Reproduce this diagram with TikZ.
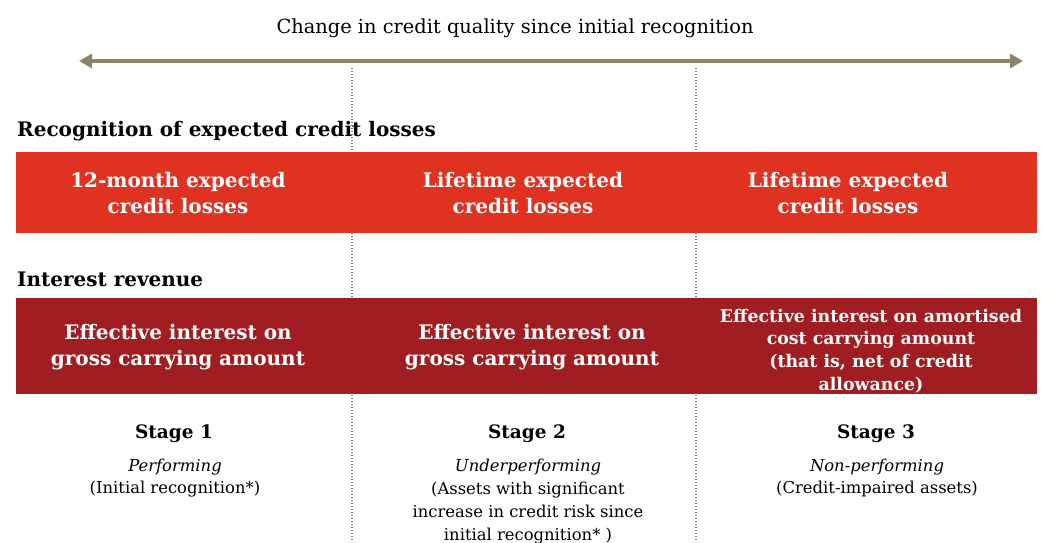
\documentclass[tikz,border=0pt]{standalone}
\usepackage{fontspec}
\setmainfont{DejaVu Serif}
\usetikzlibrary{arrows.meta}
\definecolor{axisc}{RGB}{143,130,100}
\definecolor{dotc}{RGB}{140,126,95}
\definecolor{eclred}{RGB}{224,50,33}
\definecolor{intred}{RGB}{160,30,34}
\begin{document}
\begin{tikzpicture}[x=1pt,y=-1pt,
  titletext/.style={font=\fontsize{19.4}{24}\selectfont, anchor=base, inner sep=0},
  heading/.style={font=\bfseries\fontsize{20}{24}\selectfont, anchor=base west, inner sep=0},
  barbox/.style={minimum width=1021pt, inner sep=0, outer sep=0, draw=none},
  bartext/.style={text=white, font=\bfseries\fontsize{20}{26}\selectfont, align=center, inner sep=0},
  smallbartext/.style={text=white, font=\bfseries\fontsize{17.4}{22.7}\selectfont, align=center, inner sep=0},
  stagehead/.style={font=\bfseries\fontsize{18.5}{22}\selectfont, anchor=base, inner sep=0},
  stagetext/.style={font=\fontsize{16.4}{22.7}\selectfont, align=center, inner sep=0},
  divider/.style={draw=dotc, line width=1.8pt, dash pattern=on 1.4pt off 1.6pt},
  axisline/.style={draw=axisc, line width=4.5pt, {Triangle[length=13pt,width=14pt]}-{Triangle[length=13pt,width=14pt]}}
]
\useasboundingbox (0,0) rectangle (1046,542);

% title and axis
\node[titletext] (title) at (515,33) {Change in credit quality since initial recognition};
\coordinate (axL) at (79,61);
\coordinate (axR) at (1023,61);
\draw[axisline] (axL) -- (axR);

% dividers
\coordinate (d1top) at (352,68);
\coordinate (d1bot) at (352,542);
\coordinate (d2top) at (696,68);
\coordinate (d2bot) at (696,542);
\draw[divider] (d1top) -- (d1bot);
\draw[divider] (d2top) -- (d2bot);

% headings
\node[heading] (h1) at (17,136) {Recognition of expected credit losses};
\node[heading] (h2) at (17,286) {Interest revenue};

% bars
\node[barbox, fill=eclred, minimum height=81pt] (eclbar) at (526.5,192.5) {};
\node[barbox, fill=intred, minimum height=96pt] (intbar) at (526.5,346) {};

\node[bartext] (ecl1) at (178,193.4) {12-month expected\\credit losses};
\node[bartext] (ecl2) at (523,193.4) {Lifetime expected\\credit losses};
\node[bartext] (ecl3) at (848,193.4) {Lifetime expected\\credit losses};

\node[bartext] (int1) at (178,346.7) {Effective interest on\\gross carrying amount};
\node[bartext] (int2) at (532,346.7) {Effective interest on\\gross carrying amount};
\node[smallbartext] (int3) at (871,351) {Effective interest on amortised\\cost carrying amount\\(that is, net of credit\\allowance)};

% stages
\node[stagehead] (s1) at (174,438) {Stage 1};
\node[stagehead] (s2) at (527,438) {Stage 2};
\node[stagehead] (s3) at (876,438) {Stage 3};

\node[stagetext] (s1t) at (175,478) {\textit{Performing}\\(Initial recognition*)};
\node[stagetext] (s2t) at (528,501.6) {\textit{Underperforming}\\(Assets with significant\\increase in credit risk since\\initial recognition* )};
\node[stagetext] (s3t) at (877,478) {\textit{Non-performing}\\(Credit-impaired assets)};
\end{tikzpicture}
\end{document}
